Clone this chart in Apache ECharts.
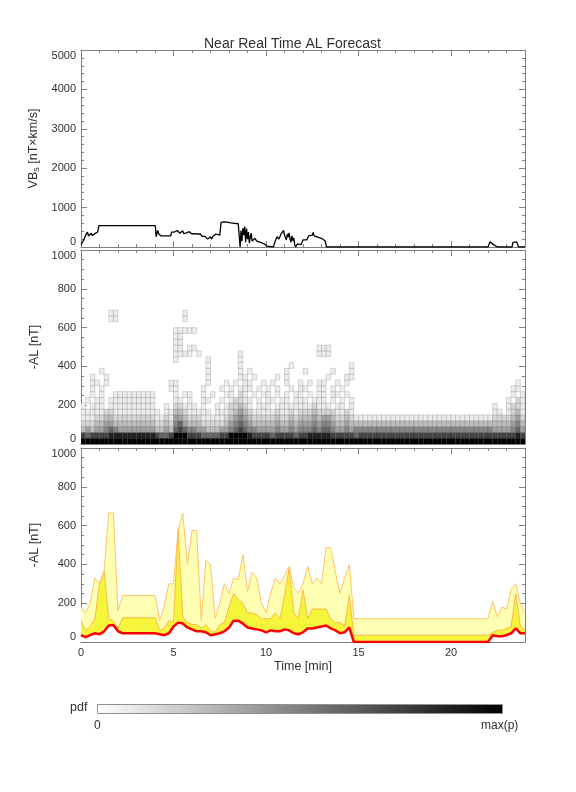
<!DOCTYPE html>
<html>
<head>
<meta charset="utf-8">
<script src="https://cdn.jsdelivr.net/npm/echarts/dist/echarts.min.js"></script>
<style>html,body{margin:0;padding:0;background:#fff}#chart{width:576px;height:792px}</style>
</head>
<body>
<div id="chart"></div>
<script>
// ---------- DATA ----------
const titleText = 'Near Real Time AL Forecast';
const xTickLabels = [0, 5, 10, 15, 20];

// Top panel: VBs [nT x km/s]
const vbsTime = [0.00,0.08,0.15,0.20,0.25,0.30,0.35,0.40,0.45,0.50,0.55,0.60,0.65,0.70,0.75,0.80,0.85,0.90,0.97,
  4.02,4.06,4.10,4.15,4.20,4.28,4.34,4.85,4.90,4.95,5.00,5.05,5.10,5.15,5.20,5.25,5.30,5.35,5.40,5.45,5.50,5.55,5.60,5.65,5.70,5.75,5.80,5.85,5.90,5.95,
  6.00,6.05,6.10,6.15,6.20,6.25,6.30,6.35,6.40,6.45,6.50,6.55,6.60,6.65,6.70,6.75,6.80,6.85,6.90,6.95,7.00,7.05,7.10,7.15,7.20,7.30,7.40,7.50,7.57,7.62,
  7.70,7.80,7.90,8.00,8.10,8.20,8.30,8.40,8.50,8.56,8.60,8.65,8.70,8.75,8.80,8.85,8.90,8.95,9.00,9.05,9.10,9.15,9.20,9.25,9.30,9.35,9.40,9.50,9.60,9.70,
  9.80,9.90,10.00,10.05,10.10,10.40,10.50,10.60,10.70,10.80,10.90,10.95,11.00,11.05,11.10,11.15,11.20,11.25,11.30,11.35,11.40,11.45,11.50,11.55,11.60,
  11.70,11.80,11.90,12.00,12.10,12.20,12.30,12.40,12.50,12.55,12.60,12.70,12.80,12.90,13.00,13.10,13.20,13.27,
  22.00,22.05,22.10,22.15,22.20,22.30,22.40,22.50,23.30,23.35,23.45,23.55,23.65,24.00];
const vbsValue = [60,120,180,160,300,250,380,280,330,260,350,290,310,270,340,300,320,380,540,
  540,260,340,420,330,360,280,285,380,350,410,380,400,360,420,380,390,350,400,360,410,340,380,300,360,330,350,390,340,370,
  330,360,300,340,320,380,330,310,350,330,300,270,300,250,270,220,250,200,240,180,260,200,230,280,250,330,360,300,620,660,
  640,620,630,600,610,590,600,580,590,570,0,420,150,480,300,520,120,470,200,380,100,250,350,150,200,100,220,150,180,120,
  150,80,120,20,0,0,150,260,200,320,280,420,300,240,180,330,250,360,200,120,280,160,230,60,0,
  80,120,60,180,220,180,280,240,300,370,280,320,250,300,220,260,150,0,
  0,60,130,90,120,60,80,0,0,120,100,130,0,0];

// Bottom panel: AL forecast quantiles [nT], every 0.25 min
const alTime = [0,0.25,0.5,0.75,1,1.25,1.5,1.75,2,2.25,2.5,2.75,3,3.25,3.5,3.75,4,4.25,4.5,4.75,5,5.25,5.5,5.75,
  6,6.25,6.5,6.75,7,7.25,7.5,7.75,8,8.25,8.5,8.75,9,9.25,9.5,9.75,10,10.25,10.5,10.75,11,11.25,11.5,11.75,
  12,12.25,12.5,12.75,13,13.25,13.5,13.75,14,14.25,14.5,14.75,15,15.25,15.5,15.75,16,16.25,16.5,16.75,17,17.25,17.5,17.75,
  18,18.25,18.5,18.75,19,19.25,19.5,19.75,20,20.25,20.5,20.75,21,21.25,21.5,21.75,22,22.25,22.5,22.75,23,23.25,23.5,23.75,24];
const alUpper = [180,150,200,330,300,365,665,665,160,240,240,240,240,240,240,240,240,110,185,300,300,575,665,400,
  575,575,110,420,400,120,200,300,250,330,320,450,260,360,330,200,150,250,330,300,340,390,280,250,
  300,390,300,330,300,485,485,360,250,330,400,120,120,120,120,120,120,120,120,120,120,120,120,120,
  120,120,120,120,120,120,120,120,120,120,120,120,120,120,120,120,120,210,130,180,170,270,300,200,150];
const alQuartile = [110,60,80,120,300,365,120,110,70,125,125,125,125,125,125,125,125,60,70,110,100,575,130,100,
  90,90,70,90,60,50,90,100,180,250,220,200,150,150,140,120,120,120,150,120,240,380,150,120,
  270,120,170,170,170,170,120,100,100,80,240,35,35,35,35,35,35,35,35,35,35,35,35,35,
  35,35,35,35,35,35,35,35,35,35,35,35,35,35,35,35,35,50,60,60,70,80,250,80,60];
const alMedian = [35,25,35,45,40,55,85,88,55,45,45,45,45,45,45,45,45,40,35,45,80,100,95,75,
  65,55,55,50,35,40,45,55,75,110,110,95,75,70,65,60,50,60,55,55,65,60,45,40,
  50,70,70,75,80,85,70,60,45,50,75,0,0,0,0,0,0,0,0,0,0,0,0,0,
  0,0,0,0,0,0,0,0,0,0,0,0,0,0,0,0,0,35,30,30,35,45,70,45,45];

// Middle panel: pdf of -AL, rows of 30 nT bins (row 0 = 0-30 nT), columns of 0.25 min
// one group of 4 columns per minute; '.' = empty, 1..9 = relative probability
const pdfBinWidth = 30;
const pdfColWidth = 0.25;
const pdfRows = [
  '9999 9999 9999 9999 9999 9999 9999 9999 9999 9999 9999 9999 9999 9999 9999 9999 9999 9999 9999 9999 9999 9999 9999 9999',
  '7677 7788 8888 8888 7667 9997 7766 6677 9999 8777 7677 7767 7888 8877 7776 7777 7777 7777 7777 7777 7777 7777 7777 7787',
  '3434 4565 4444 4444 3343 6765 5443 3344 5676 5544 4454 4545 5565 6654 4545 5555 5555 5555 5555 5555 5555 5555 5444 4564',
  '2223 3443 3333 3333 2232 5643 3322 2223 4565 4333 3343 3434 4454 5543 3433 3333 3333 3333 3333 3333 3333 3333 3333 3453',
  '1112 2332 2222 2222 1121 4432 2211 1112 3454 3222 2232 2323 3343 4432 2321 1111 1111 1111 1111 1111 1111 1111 1222 2342',
  '1111 1221 1111 1111 1.11 3321 1111 .111 2343 2111 1121 1212 2232 2221 121. .... .... .... .... .... .... .... .11. 1231',
  '1.11 1.11 1111 1111 ..1. 2211 1.1. .1.1 2232 1.11 1.11 1111 1121 11.1 1.1. .... .... .... .... .... .... .... .1.. 1221',
  '.1.1 1.11 1111 1111 .... 11.1 ..11 ..1. 1221 1.1. 11.1 1.11 1.11 1.1. 1.1. .... .... .... .... .... .... .... .... 1.21',
  '..1. 1..1 1111 1111 .... 1.11 ..1. 1..1 1.21 .1.1 1.1. 1.11 .1.1 1.11 .1.. .... .... .... .... .... .... .... .... .1.1',
  '..1. 1... .... .... ...1 1... ..1. ..1. 1.11 1.1. 1.1. .1.1 1..1 1.1. 1... .... .... .... .... .... .... .... .... .11.',
  '..11 .1.. .... .... ...1 1... ...1 ...1 .1.1 1..1 .1.. 1..1 .1.1 1..1 .1.. .... .... .... .... .... .... .... .... ..1.',
  '..1. .1.. .... .... .... .... ...1 .... ..11 .1.. ..1. 1... .... .1.. .11. .... .... .... .... .... .... .... .... ....',
  '.... 1... .... .... .... .... ...1 .... ..1. 1... .... 1... 1... ..1. ..1. .... .... .... .... .... .... .... .... ....',
  '.... .... .... .... .... .... ...1 .... ..1. .... .... .1.. .... .... ..1. .... .... .... .... .... .... .... .... ....',
  '.... .... .... .... .... 1... ...1 .... ..1. .... .... .... .... .... .... .... .... .... .... .... .... .... .... ....',
  '.... .... .... .... .... 1111 .1.. .... ..1. .... .... .... ...1 11.. .... .... .... .... .... .... .... .... .... ....',
  '.... .... .... .... .... 11.1 1... .... .... .... .... .... ...1 11.. .... .... .... .... .... .... .... .... .... ....',
  '.... .... .... .... .... 11.. .... .... .... .... .... .... .... .... .... .... .... .... .... .... .... .... .... ....',
  '.... .... .... .... .... 11.. .... .... .... .... .... .... .... .... .... .... .... .... .... .... .... .... .... ....',
  '.... .... .... .... .... 1111 1... .... .... .... .... .... .... .... .... .... .... .... .... .... .... .... .... ....',
  '.... .... .... .... .... .... .... .... .... .... .... .... .... .... .... .... .... .... .... .... .... .... .... ....',
  '.... ..11 .... .... .... ..1. .... .... .... .... .... .... .... .... .... .... .... .... .... .... .... .... .... ....',
  '.... ..11 .... .... .... ..1. .... .... .... .... .... .... .... .... .... .... .... .... .... .... .... .... .... ....'
];

// ---------- BUILD ----------
const pdfData = [];
pdfRows.forEach(function (row, k) {
  const s = row.replace(/ /g, '');
  for (let i = 0; i < s.length; i++) {
    if (s[i] !== '.') pdfData.push([i * pdfColWidth, k * pdfBinWidth, +s[i]]);
  }
});
const pair = (xs, ys) => xs.map((x, i) => [x, ys[i]]);

const FONT = 'Liberation Sans';
const frame = '#808080';
const txt = '#303030';

const grids = [
  { left: 81, width: 444, top: 50, height: 197 },
  { left: 81, width: 444, top: 250, height: 194 },
  { left: 81, width: 444, top: 448, height: 194 }
];

const xAxes = [], yAxes = [];
const yCfg = [
  { max: 5000, interval: 1000, minor: 5, name: 'VB{s|s} [nT×km/s]' },
  { max: 1000, interval: 200, minor: 4, name: '-AL [nT]' },
  { max: 1000, interval: 200, minor: 4, name: '-AL [nT]' }
];
grids.forEach(function (g, gi) {
  ['bottom', 'top'].forEach(function (pos) {
    const showLab = (gi === 2 && pos === 'bottom');
    xAxes.push({
      type: 'value', gridIndex: gi, position: pos, min: 0, max: 24, interval: 5,
      axisLine: { show: true, onZero: false, lineStyle: { color: frame, width: 1 } },
      axisTick: { show: true, inside: true, length: 6, lineStyle: { color: frame } },
      minorTick: { show: true, splitNumber: 5, length: 3, lineStyle: { color: frame } },
      splitLine: { show: false },
      axisLabel: { show: showLab, showMaxLabel: false, margin: 5, color: txt, fontFamily: FONT, fontSize: 11,
        formatter: function (v) { return xTickLabels.indexOf(v) >= 0 ? String(v) : ''; } },
      name: showLab ? 'Time [min]' : '', nameLocation: 'middle', nameGap: 18,
      nameTextStyle: { color: txt, fontFamily: FONT, fontSize: 12.5 }
    });
  });
  ['left', 'right'].forEach(function (pos) {
    const c = yCfg[gi];
    const isLeft = pos === 'left';
    yAxes.push({
      type: 'value', gridIndex: gi, position: pos, min: 0, max: c.max, interval: c.interval,
      axisLine: { show: true, onZero: false, lineStyle: { color: frame, width: 1 } },
      axisTick: { show: true, inside: true, length: 6, lineStyle: { color: frame } },
      minorTick: { show: true, splitNumber: c.minor, length: 3, lineStyle: { color: frame } },
      splitLine: { show: false },
      axisLabel: { show: isLeft, margin: 5, color: txt, fontFamily: FONT, fontSize: 11,
        verticalAlignMinLabel: 'bottom', verticalAlignMaxLabel: 'top',
        formatter: function (v) { return String(v); } },
      name: isLeft ? c.name : '', nameLocation: 'middle', nameGap: 31,
      nameTextStyle: { color: txt, fontFamily: FONT, fontSize: 12.5,
        rich: { s: { fontSize: 9, fontFamily: FONT, color: txt, padding: [6, 0, 0, 0] } } }
    });
  });
});

const option = {
  animation: false,
  backgroundColor: '#ffffff',
  title: { text: titleText, left: 199, top: 32, textStyle: { color: txt, fontFamily: FONT, fontSize: 14, fontWeight: 'normal' } },
  grid: grids,
  xAxis: xAxes,
  yAxis: yAxes,
  visualMap: {
    show: false, type: 'continuous', min: 0, max: 9, dimension: 2, seriesIndex: 1,
    inRange: { color: ['#ffffff', '#ececec', '#d6d6d6', '#bdbdbd', '#a0a0a0', '#858585', '#666666', '#444444', '#222222', '#000000'] }
  },
  series: [
    { type: 'line', xAxisIndex: 0, yAxisIndex: 0, data: pair(vbsTime, vbsValue), showSymbol: false,
      lineStyle: { color: '#000', width: 1.3 }, z: 3 },
    { type: 'custom', xAxisIndex: 2, yAxisIndex: 2, data: pdfData, clip: true,
      encode: { x: 0, y: 1 },
      renderItem: function (params, api) {
        const t = api.value(0), b = api.value(1);
        const a = api.coord([t, b + pdfBinWidth]);
        const c = api.coord([t + pdfColWidth, b]);
        return { type: 'rect', shape: { x: a[0], y: a[1], width: c[0] - a[0], height: c[1] - a[1] },
          style: { fill: api.visual('color'), stroke: 'rgba(0,0,0,0.22)', lineWidth: 0.6 } };
      } },
    { type: 'line', xAxisIndex: 4, yAxisIndex: 4, data: pair(alTime, alUpper), showSymbol: false,
      lineStyle: { color: '#ffc466', width: 1 }, areaStyle: { color: '#ffffb4', opacity: 1 }, z: 2 },
    { type: 'line', xAxisIndex: 4, yAxisIndex: 4, data: pair(alTime, alQuartile), showSymbol: false,
      lineStyle: { color: '#ffb84a', width: 1 }, areaStyle: { color: '#f5f53c', opacity: 1 }, z: 3 },
    { type: 'line', xAxisIndex: 4, yAxisIndex: 4, data: pair(alTime, alMedian), showSymbol: false,
      lineStyle: { color: '#ff0000', width: 2.5 }, areaStyle: { color: '#ffffff', opacity: 1 }, z: 4 }
  ],
  graphic: [
    { type: 'rect', left: 97, top: 704, shape: { width: 405, height: 9 },
      style: { fill: { type: 'linear', x: 0, y: 0, x2: 1, y2: 0,
        colorStops: [{ offset: 0, color: '#ffffff' }, { offset: 1, color: '#000000' }] },
        stroke: '#909090', lineWidth: 1 } },
    { type: 'text', left: 70, top: 701, style: { text: 'pdf', fill: txt, font: '12.5px ' + FONT } },
    { type: 'text', left: 94, top: 720, style: { text: '0', fill: txt, font: '12px ' + FONT } },
    { type: 'text', left: 481, top: 720, style: { text: 'max(p)', fill: txt, font: '12px ' + FONT } }
  ]
};

const chart = echarts.init(document.getElementById('chart'), null, { renderer: 'canvas' });
chart.setOption(option);
</script>
</body>
</html>
